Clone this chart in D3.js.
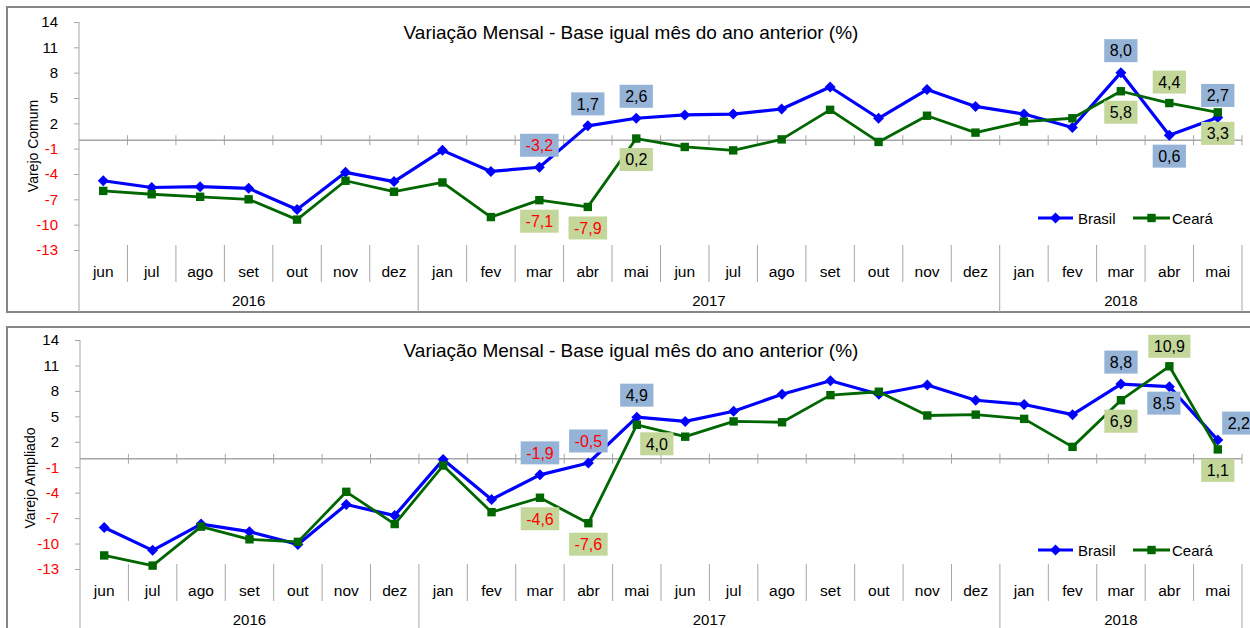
<!DOCTYPE html>
<html>
<head>
<meta charset="utf-8">
<script src="https://cdn.jsdelivr.net/npm/d3@7"></script>
<style>
  body { margin: 0; background: #fff; }
  text { font-family: "Liberation Sans", Arial, sans-serif; }
</style>
</head>
<body>
<svg id="chart" width="1250" height="628"></svg>
<script>
// ---- data ----
const months = ["jun", "jul", "ago", "set", "out", "nov", "dez",
  "jan", "fev", "mar", "abr", "mai", "jun", "jul", "ago", "set", "out", "nov", "dez",
  "jan", "fev", "mar", "abr", "mai"];
const years = ["2016", "2017", "2018"];
const monthsPerYear = [7, 12, 5];
const yTicks = [14, 11, 8, 5, 2, -1, -4, -7, -10, -13];
const seriesNames = ["Brasil", "Ceará"];
const chartTitle = "Variação Mensal - Base igual mês do ano anterior (%)";

const comumBrasil = [-4.8, -5.6, -5.5, -5.7, -8.2, -3.8, -4.9,
  -1.2, -3.7, -3.2, 1.7, 2.6, 3.0, 3.1, 3.7, 6.3, 2.6, 6.0, 4.0,
  3.1, 1.5, 8.0, 0.6, 2.7];
const comumCeara = [-6.0, -6.4, -6.7, -7.0, -9.4, -4.8, -6.1,
  -5.0, -9.1, -7.1, -7.9, 0.2, -0.8, -1.2, 0.1, 3.6, -0.2, 2.9, 0.9,
  2.2, 2.6, 5.8, 4.4, 3.3];
const ampliadoBrasil = [-8.1, -10.8, -7.7, -8.6, -10.1, -5.4, -6.7,
  -0.1, -4.8, -1.9, -0.5, 4.9, 4.4, 5.6, 7.6, 9.2, 7.6, 8.7, 6.9,
  6.4, 5.2, 8.8, 8.5, 2.2];
const ampliadoCeara = [-11.4, -12.6, -8.0, -9.5, -9.8, -3.9, -7.7,
  -0.8, -6.3, -4.6, -7.6, 4.0, 2.6, 4.4, 4.3, 7.5, 7.9, 5.1, 5.2,
  4.7, 1.4, 6.9, 10.9, 1.1];

// months that carry a value label
const labeledMonths = [9, 10, 11, 21, 22, 23];

// ---- layout ----
const COLORS = ["#0000FF", "#006600"];
const BOX_FILL = ["#95B3D7", "#C4D79B"];
const AXIS_GREY = "#A6A6A6";
const X_END = 1242;

const panels = [
  {
    yTitle: "Varejo Comum", series: [comumBrasil, comumCeara],
    left: 79, top: 22, bottom: 250, frameTop: 7, frameBottom: 312,
    titleY: 38.5, legendY: 218, yTitleX: 38, yTitleY: 146,
    // label offsets that differ from the default (Brasil above, Ceará below)
    offsets: {"0-22": [0, 21], "1-22": [0, -21]}
  },
  {
    yTitle: "Varejo Ampliado", series: [ampliadoBrasil, ampliadoCeara],
    left: 80, top: 340, bottom: 569, frameTop: 327, frameBottom: 660,
    titleY: 357, legendY: 550, yTitleX: 35, yTitleY: 478,
    offsets: {"1-11": [20, 19], "0-22": [-5.5, 16.5], "1-22": [0, -20], "0-23": [21, -17]}
  }
];

const svg = d3.select("#chart");
// comma decimals and a plain hyphen for negatives
const locale = d3.formatLocale({decimal: ",", thousands: ".", grouping: [3], currency: ["", ""], minus: "-"});
const fmt = locale.format(".1f");

panels.forEach(drawPanel);

function drawPanel(p) {
  const g = svg.append("g");

  const x = d3.scaleBand().domain(d3.range(months.length)).range([p.left, X_END]);
  const y = d3.scaleLinear().domain([-13, 14]).range([p.bottom, p.top]);
  const bw = x.bandwidth();
  const base = y(-13);
  const bx = i => p.left + i * bw;   // category boundary

  // outer frame
  g.append("rect")
    .attr("x", 7).attr("y", p.frameTop)
    .attr("width", 1300).attr("height", p.frameBottom - p.frameTop)
    .attr("fill", "none").attr("stroke", "#868686").attr("stroke-width", 2);

  // title
  g.append("text")
    .attr("x", 631).attr("y", p.titleY)
    .attr("text-anchor", "middle")
    .style("font-size", "19px")
    .text(chartTitle);

  // y axis
  const yAxis = g.append("g")
    .attr("transform", "translate(" + p.left + ",0)")
    .call(d3.axisLeft(y).tickValues(yTicks).tickFormat(locale.format("d"))
      .tickSize(5).tickPadding(16));
  yAxis.select(".domain").remove();
  yAxis.selectAll("line").attr("stroke", AXIS_GREY);
  yAxis.selectAll("text")
    .style("font-size", "15px")
    .attr("fill", d => d < 0 ? "#FF0000" : "#000");
  g.append("line")
    .attr("x1", p.left).attr("x2", p.left)
    .attr("y1", p.top).attr("y2", p.frameBottom)
    .attr("stroke", AXIS_GREY);

  // y axis title
  g.append("text")
    .attr("transform", "translate(" + p.yTitleX + "," + p.yTitleY + ") rotate(-90)")
    .attr("text-anchor", "middle")
    .style("font-size", "14px")
    .text(p.yTitle);

  // category axis crossing at zero
  const y0 = y(0);
  g.append("line")
    .attr("x1", p.left).attr("x2", X_END)
    .attr("y1", y0).attr("y2", y0)
    .attr("stroke", AXIS_GREY).attr("stroke-width", 1.5);
  g.selectAll(".zt")
    .data(d3.range(1, months.length + 1))
    .join("line")
    .attr("x1", bx).attr("x2", bx)
    .attr("y1", y0 - 5).attr("y2", y0 + 5)
    .attr("stroke", AXIS_GREY);

  // multi-level category labels
  const yearEnds = d3.cumsum(monthsPerYear);
  g.selectAll(".sep")
    .data(d3.range(1, months.length + 1))
    .join("line")
    .attr("x1", bx).attr("x2", bx)
    .attr("y1", base - 5)
    .attr("y2", i => yearEnds.includes(i) ? p.frameBottom : base + 32)
    .attr("stroke", AXIS_GREY);

  g.selectAll(".mlab")
    .data(months)
    .join("text")
    .attr("x", (d, i) => x(i) + bw / 2)
    .attr("y", base + 27)
    .attr("text-anchor", "middle")
    .style("font-size", "15.5px")
    .text(d => d);

  g.selectAll(".ylab")
    .data(years)
    .join("text")
    .attr("x", (d, i) => {
      const start = i === 0 ? 0 : yearEnds[i - 1];
      return (bx(start) + bx(yearEnds[i])) / 2;
    })
    .attr("y", base + 56)
    .attr("text-anchor", "middle")
    .style("font-size", "15px")
    .text(d => d);

  // series lines and markers
  const line = d3.line().x((d, i) => x(i) + bw / 2).y(d => y(d));
  p.series.forEach((vals, s) => {
    g.append("path")
      .datum(vals)
      .attr("d", line)
      .attr("fill", "none")
      .attr("stroke", COLORS[s])
      .attr("stroke-width", s === 0 ? 3.2 : 2.8)
      .attr("stroke-linejoin", "round");
    g.selectAll(".m" + s)
      .data(vals)
      .join("path")
      .attr("transform", (d, i) => "translate(" + (x(i) + bw / 2) + "," + y(d) + ")")
      .attr("d", markerPath(s))
      .attr("fill", COLORS[s]);
  });

  // legend
  const legendItems = [{x1: 1038, x2: 1073, tx: 1078}, {x1: 1133, x2: 1170, tx: 1172}];
  seriesNames.forEach((name, s) => {
    const it = legendItems[s];
    g.append("line")
      .attr("x1", it.x1).attr("x2", it.x2)
      .attr("y1", p.legendY).attr("y2", p.legendY)
      .attr("stroke", COLORS[s]).attr("stroke-width", 3);
    g.append("path")
      .attr("transform", "translate(" + ((it.x1 + it.x2) / 2) + "," + p.legendY + ")")
      .attr("d", markerPath(s))
      .attr("fill", COLORS[s]);
    g.append("text")
      .attr("x", it.tx).attr("y", p.legendY + 5.5)
      .style("font-size", "15px")
      .text(name);
  });

  // value labels
  p.series.forEach((vals, s) => {
    labeledMonths.forEach(i => {
      const v = vals[i];
      const off = p.offsets[s + "-" + i] || (s === 0 ? [0, -22] : [0, 21]);
      const cx = x(i) + bw / 2 + off[0];
      const cy = y(v) + off[1];
      const lg = g.append("g");
      const rect = lg.append("rect").attr("fill", BOX_FILL[s]);
      const t = lg.append("text")
        .attr("x", cx).attr("y", cy + 5.8)
        .attr("text-anchor", "middle")
        .style("font-size", "16px")
        .attr("fill", v < 0 ? "#FF0000" : "#000")
        .text(fmt(v));
      const w = t.node().getComputedTextLength() + 11;
      rect.attr("x", cx - w / 2).attr("y", cy - 11.5)
        .attr("width", w).attr("height", 23);
    });
  });
}

function markerPath(s) {
  if (s === 0) return "M0,-5.5L5.5,0L0,5.5L-5.5,0Z";
  return "M-4.2,-4.2H4.2V4.2H-4.2Z";
}
</script>
</body>
</html>
